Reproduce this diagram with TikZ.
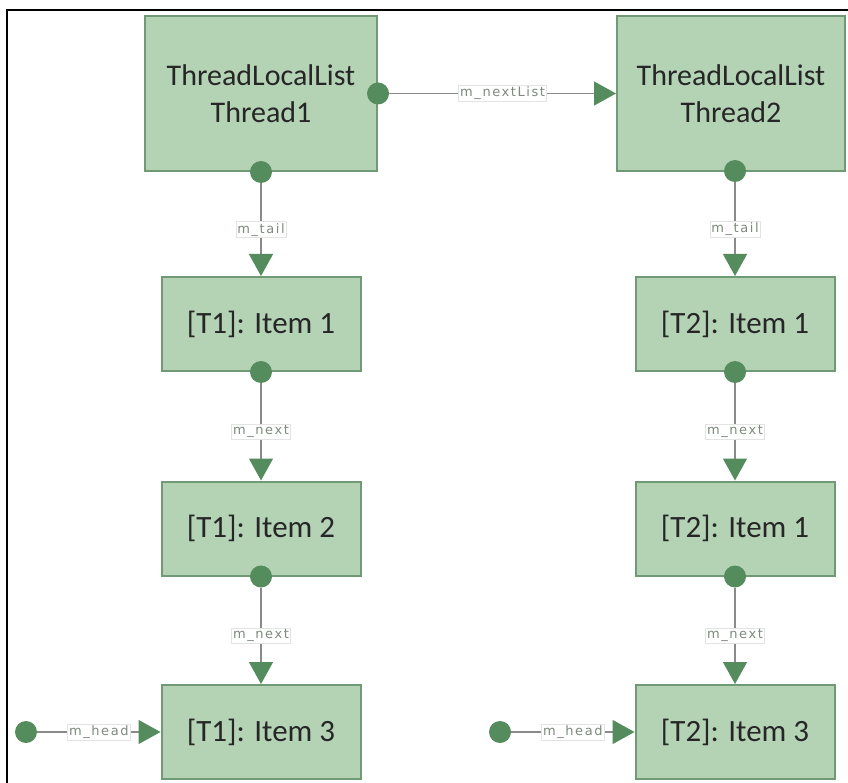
\documentclass[tikz,border=0pt]{standalone}
\usepackage{fontspec}
\setmainfont{Carlito}
\newfontfamily\tagfont[LetterSpace=12]{DejaVu Sans}
\usetikzlibrary{arrows.meta}
\definecolor{boxfill}{RGB}{180,211,181}
\definecolor{boxline}{RGB}{112,154,116}
\definecolor{jointfill}{RGB}{84,140,94}
\definecolor{wire}{RGB}{138,138,138}
\definecolor{tagtext}{RGB}{125,138,125}

\tikzset{
	listbox/.style={draw=boxline, fill=boxfill, line width=2pt, align=center,
		minimum height=155pt, text=black!85,
		font=\fontsize{30}{37}\selectfont},
	itembox/.style={draw=boxline, fill=boxfill, line width=2pt,
		minimum width=199pt, minimum height=94pt, text=black!85,
		font=\fontsize{31}{37}\selectfont},
	joint/.style={circle, fill=jointfill, minimum size=22pt, inner sep=0pt},
	link/.style={draw=wire, line width=1.4pt,
		-{Triangle[length=22pt, width=24pt, color=jointfill]}},
	tag/.style={fill=white, draw=gray!22, line width=0.6pt, text=tagtext,
		font=\tagfont\fontsize{13}{15}\selectfont, inner sep=1.5pt}
}

\begin{document}
\begin{tikzpicture}[x=1pt, y=-1pt]
		%%%%% FRAME %%%%%
		\useasboundingbox (0, 0) rectangle (848, 783);
		\draw[line width=1.6pt] (7, 783) -- (7, 10) -- (848, 10);
		
		%%%%% THREAD 1 %%%%%
		\node[listbox, minimum width=232pt] (thr1) at (261, 93.5) {ThreadLocalList\\Thread1};
		\node[itembox] (t1a) at (261, 324) {[T1]: Item 1};
		\node[itembox] (t1b) at (261, 528.5) {[T1]: Item 2};
		\node[itembox] (t1c) at (261, 732) {[T1]: Item 3};
		
		%%%%% THREAD 2 %%%%%
		\node[listbox, minimum width=228pt] (thr2) at (731, 93.5) {ThreadLocalList\\Thread2};
		\node[itembox] (t2a) at (735, 324) {[T2]: Item 1};
		\node[itembox] (t2b) at (735, 528.5) {[T2]: Item 1};
		\node[itembox] (t2c) at (735, 732) {[T2]: Item 3};
		
		%%%%% JOINTS %%%%%
		\node[joint] (j1next) at (thr1.east) {};
		\node[joint] (j1tail) at (thr1.south) {};
		\node[joint] (j1a) at (t1a.south) {};
		\node[joint] (j1b) at (t1b.south) {};
		\node[joint] (j2tail) at (735, 171) {};
		\node[joint] (j2a) at (t2a.south) {};
		\node[joint] (j2b) at (t2b.south) {};
		\node[joint] (h1) at (26, 732) {};
		\node[joint] (h2) at (500, 732) {};
		
		%%%%% LINKS %%%%%
		\draw[link] (j1next) -- node[tag] {m\_nextList} (thr2.west |- j1next);
		
		\draw[link] (j1tail) -- node[tag] {m\_tail} (t1a.north);
		\draw[link] (j1a) -- node[tag] {m\_next} (t1b.north);
		\draw[link] (j1b) -- node[tag] {m\_next} (t1c.north);
		\draw[link] (h1) -- node[tag] {m\_head} (t1c.west);
		
		\draw[link] (j2tail) -- node[tag] {m\_tail} (t2a.north);
		\draw[link] (j2a) -- node[tag] {m\_next} (t2b.north);
		\draw[link] (j2b) -- node[tag] {m\_next} (t2c.north);
		\draw[link] (h2) -- node[tag] {m\_head} (t2c.west);
		
		%%%%% END %%%%%
	\end{tikzpicture}
\end{document}
